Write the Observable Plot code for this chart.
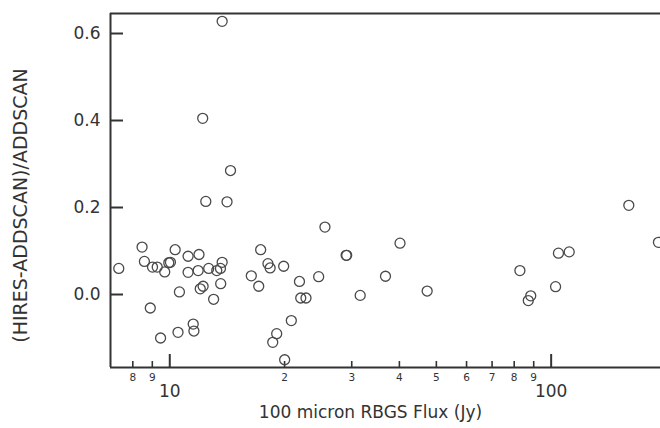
<!DOCTYPE html>
<html>
<head>
<meta charset="utf-8">
<script src="https://cdn.jsdelivr.net/npm/d3@7"></script>
<script src="https://cdn.jsdelivr.net/npm/@observablehq/plot@0.6"></script>
<style>
  html, body { margin: 0; padding: 0; background: #fff; }
  #chart svg { display: block; font-family: "DejaVu Sans", sans-serif; }
</style>
</head>
<body>
<div id="chart"></div>
<script>
// 100 micron RBGS flux (Jy)
const flux = [7.35, 8.46, 8.58, 9.01, 9.27, 9.70, 9.94, 10.04, 10.33, 11.17,
  11.93, 11.17, 11.87, 12.65, 13.28, 13.58, 13.72, 10.60, 12.02, 12.23,
  13.60, 13.03, 8.89, 9.46, 10.51, 11.52, 11.57, 17.31, 18.09, 18.33,
  19.89, 16.36, 17.11, 21.88, 24.57, 25.52, 22.05, 22.76, 20.83, 19.07,
  18.62, 20.01, 12.43, 14.13, 13.72, 12.20, 14.43, 29.0, 29.1, 40.15,
  36.78, 31.57, 47.3, 82.8, 88.4, 87.1, 102.7, 104.5, 111.5, 159.8, 191.1];
// (HIRES-ADDSCAN)/ADDSCAN
const ratio = [0.060, 0.109, 0.076, 0.063, 0.063, 0.052, 0.073, 0.074, 0.103, 0.088,
  0.092, 0.051, 0.055, 0.060, 0.055, 0.060, 0.074, 0.006, 0.013, 0.019,
  0.025, -0.011, -0.031, -0.100, -0.087, -0.068, -0.084, 0.103, 0.071, 0.061,
  0.065, 0.043, 0.019, 0.030, 0.041, 0.155, -0.008, -0.008, -0.060, -0.090,
  -0.110, -0.150, 0.214, 0.213, 0.628, 0.405, 0.285, 0.090, 0.090, 0.118,
  0.042, -0.002, 0.008, 0.055, -0.003, -0.014, 0.018, 0.095, 0.098, 0.205, 0.120];

const yTicks = [0, 0.2, 0.4, 0.6];
const xMajor = [10, 100];
const xMinor = [8, 9, 20, 30, 40, 50, 60, 70, 80, 90];
const xLabel = "100 micron RBGS Flux (Jy)";
const yLabel = "(HIRES-ADDSCAN)/ADDSCAN";

const points = flux.map((f, i) => ({flux: f, ratio: ratio[i]}));

const xDomain = [6.992, 193.5];
const yDomain = [-0.1678, 0.646];
const ink = "#333";

const chart = Plot.plot({
  width: 660,
  height: 428,
  marginLeft: 110,
  marginRight: 0,
  marginTop: 13,
  marginBottom: 61,
  style: {background: "#fff", color: ink, fontFamily: "DejaVu Sans, sans-serif"},
  x: {type: "log", domain: xDomain, axis: null},
  y: {domain: yDomain, axis: null},
  marks: [
    // frame (top, left, bottom)
    Plot.ruleY([yDomain[1]], {stroke: ink, strokeWidth: 2}),
    Plot.ruleY([yDomain[0]], {stroke: ink, strokeWidth: 2}),
    Plot.ruleX([xDomain[0]], {stroke: ink, strokeWidth: 2}),
    // inward ticks
    Plot.ruleY(yTicks, {y: d => d, insetRight: 537, stroke: ink, strokeWidth: 2}),
    Plot.ruleX(xMajor, {x: d => d, insetTop: 341, stroke: ink, strokeWidth: 2}),
    Plot.ruleX(xMinor, {x: d => d, insetTop: 348, stroke: ink, strokeWidth: 1.6}),
    // tick labels
    Plot.axisY(yTicks, {tickSize: 0, tickPadding: 10, fontSize: 17, tickFormat: d3.format(".1f"), label: null, fill: ink}),
    Plot.text(xMinor, {x: d => d, frameAnchor: "bottom", dy: 13, fontSize: 10.5, fill: ink,
      text: d => String(d < 10 ? d : d / 10)}),
    Plot.text(xMajor, {x: d => d, frameAnchor: "bottom", dy: 29, fontSize: 17, fill: ink,
      text: d => String(d)}),
    // axis titles
    Plot.text([xLabel], {frameAnchor: "bottom", dx: -15, dy: 50, fontSize: 17, fill: ink}),
    Plot.text([yLabel], {frameAnchor: "left", textAnchor: "middle", dx: -90, dy: 15, rotate: -90, fontSize: 19, fill: ink}),
    // data
    Plot.dot(points, {x: "flux", y: "ratio", r: 5, stroke: "#4a4a4a", strokeWidth: 1.3, fill: "none"})
  ]
});
document.getElementById("chart").appendChild(chart);
</script>
</body>
</html>
